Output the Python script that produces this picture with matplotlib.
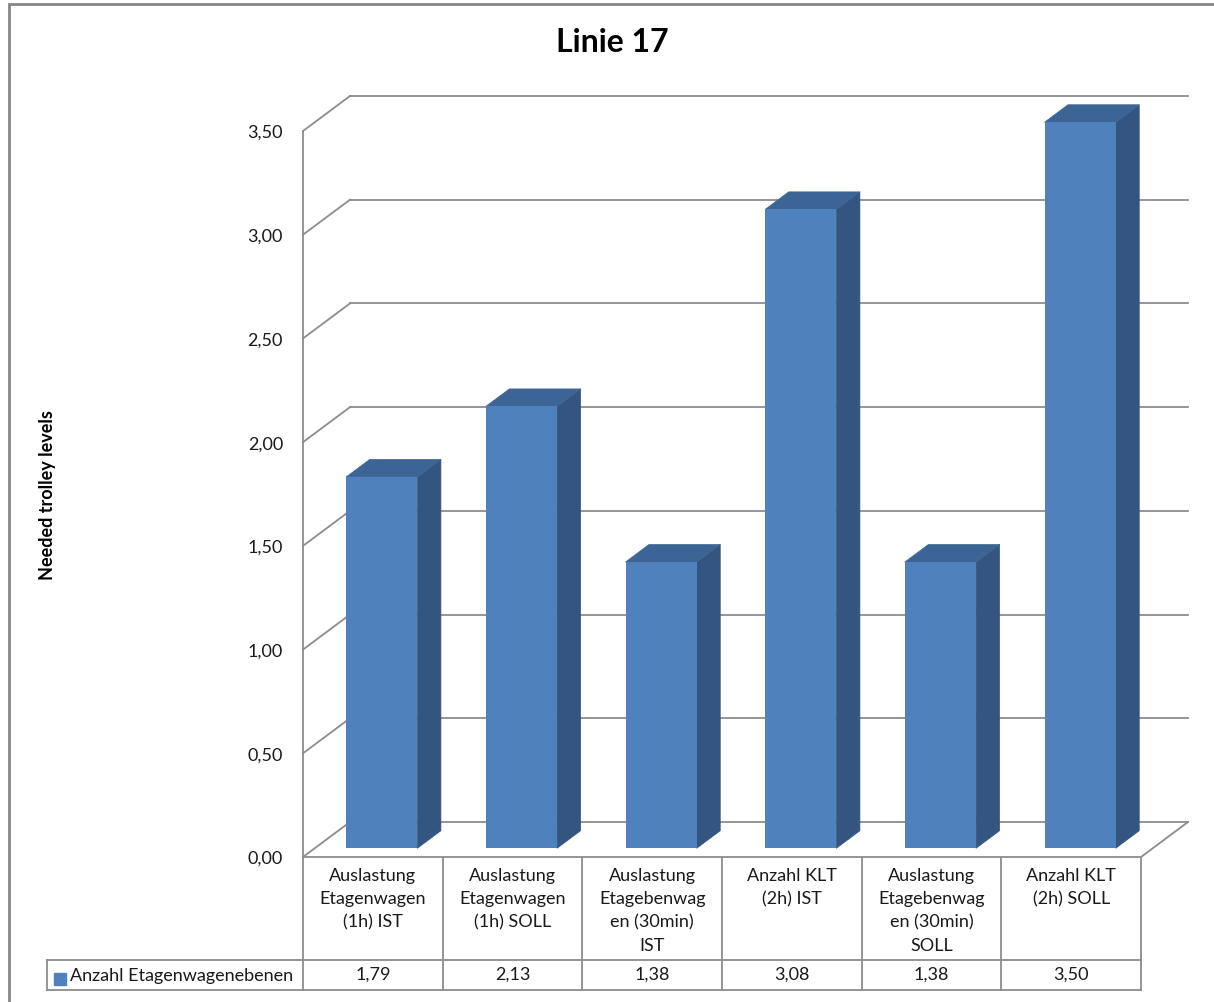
import matplotlib.pyplot as plt
from matplotlib.collections import PolyCollection
from matplotlib.patches import Rectangle

plt.rcParams['font.family'] = ['Lato', 'DejaVu Sans']

# data
categories = ['Auslastung\nEtagenwagen\n(1h) IST',
              'Auslastung\nEtagenwagen\n(1h) SOLL',
              'Auslastung\nEtagebenwag\nen (30min)\nIST',
              'Anzahl KLT\n(2h) IST',
              'Auslastung\nEtagebenwag\nen (30min)\nSOLL',
              'Anzahl KLT\n(2h) SOLL']
values = [1.79, 2.13, 1.38, 3.08, 1.38, 3.50]
series_name = 'Anzahl Etagenwagenebenen'
yticks = [0, 0.5, 1.0, 1.5, 2.0, 2.5, 3.0, 3.5]

W, H = 1214, 1002
fig = plt.figure(figsize=(W / 100, H / 100), dpi=100)

# front plane of the plot: x 303..1141 px, y 857..131 px
ax = fig.add_axes([303 / W, (H - 857) / H, 838 / W, 726 / H])
n = len(values)
ax.set_xlim(-0.5, n - 0.5)
ax.set_ylim(0, 3.5)
ax.axis('off')

# depth vector of the 3D box in data units (47 px right, 35 px up)
DX = 47 / (838 / n)
DY = 35 / (726 / 3.5)
grid_c = '#8c8c8c'
lw = 1.3
fs = 13
txt_c = '#1a1a1a'

# back wall gridlines + left wall
for v in yticks:
    ax.plot([-0.5 + DX, n - 0.5 + DX], [v + DY, v + DY], color=grid_c, lw=lw,
            clip_on=False, zorder=1)
    ax.plot([-0.5, -0.5 + DX], [v, v + DY], color=grid_c, lw=lw, clip_on=False, zorder=1)
ax.plot([-0.5, -0.5], [0, 3.5], color=grid_c, lw=lw, clip_on=False, zorder=1)
# floor
ax.plot([-0.5, n - 0.5, n - 0.5 + DX], [0, 0, DY], color=grid_c, lw=lw,
        clip_on=False, zorder=1)

# bars: front face at 1/4 depth, back at 3/4 depth
bw = 0.51
d0, d1 = 0.25, 0.75
xs = [i - 0.02 for i in range(n)]
front_c, top_c, side_c = '#4f81bd', '#3c6596', '#33557f'
ax.bar([x + d0 * DX for x in xs], values, width=bw, bottom=d0 * DY,
       color=front_c, zorder=3, clip_on=False)
tops, sides = [], []
for x, v in zip(xs, values):
    xl, xr = x - bw / 2 + d0 * DX, x + bw / 2 + d0 * DX
    b = d0 * DY
    ex, ey = (d1 - d0) * DX, (d1 - d0) * DY
    sides.append([(xr, b), (xr, b + v), (xr + ex, b + v + ey), (xr + ex, b + ey)])
    tops.append([(xl, b + v), (xr, b + v), (xr + ex, b + v + ey), (xl + ex, b + v + ey)])
ax.add_collection(PolyCollection(sides, facecolors=side_c, edgecolors=side_c,
                                 linewidths=0.5, zorder=2, clip_on=False))
ax.add_collection(PolyCollection(tops, facecolors=top_c, edgecolors=top_c,
                                 linewidths=0.5, zorder=2, clip_on=False))

# y tick labels
for v in yticks:
    ax.text(-0.5 - 20 / (838 / n), v - 0.01, f'{v:.2f}'.replace('.', ','), ha='right',
            va='center', fontsize=fs, color=txt_c, clip_on=False)

# data table below the plot (y in axes fraction)
tr = ax.get_xaxis_transform()
ypx = lambda p: (857 - p) / 726
y_top, y_mid, y_bot = ypx(858), ypx(960), ypx(990)
x_leg = -0.5 - (303 - 47) / (838 / n)
tc = '#8c8c8c'
for i in range(n + 1):
    ax.plot([i - 0.5, i - 0.5], [y_top, y_bot], color=tc, lw=lw, transform=tr, clip_on=False)
ax.plot([x_leg, n - 0.5], [y_mid, y_mid], color=tc, lw=lw, transform=tr, clip_on=False)
ax.plot([x_leg, n - 0.5], [y_bot, y_bot], color=tc, lw=lw, transform=tr, clip_on=False)
ax.plot([x_leg, x_leg], [y_mid, y_bot], color=tc, lw=lw, transform=tr, clip_on=False)
for i, (c, v) in enumerate(zip(categories, values)):
    ax.text(i, ypx(868), c, transform=tr, ha='center', va='top', fontsize=fs,
            linespacing=1.55, color=txt_c, clip_on=False)
    ax.text(i, (y_mid + y_bot) / 2, f'{v:.2f}'.replace('.', ','), transform=tr,
            ha='center', va='center', fontsize=fs, color=txt_c, clip_on=False)
# legend key inside the table
fig.patches.append(Rectangle((54 / W, (H - 985) / H), 12 / W, 12 / H,
                             transform=fig.transFigure, color=front_c))
fig.text(70 / W, (H - 976) / H, series_name, ha='left', va='center',
         fontsize=fs, color=txt_c)

# titles
fig.text(612 / W, (H - 43) / H, 'Linie 17', ha='center', va='center',
         fontsize=23, fontweight='bold')
fig.text(48 / W, (H - 495) / H, 'Needed trolley levels', rotation=90,
         ha='center', va='center', fontsize=13, fontweight='bold')

# outer chart border
fig.patches.append(Rectangle((9 / W, -0.01), 1.1, (H - 4) / H + 0.01,
                             transform=fig.transFigure, fill=False,
                             edgecolor='#858585', lw=2))

fig.savefig('out.png', dpi=100)
